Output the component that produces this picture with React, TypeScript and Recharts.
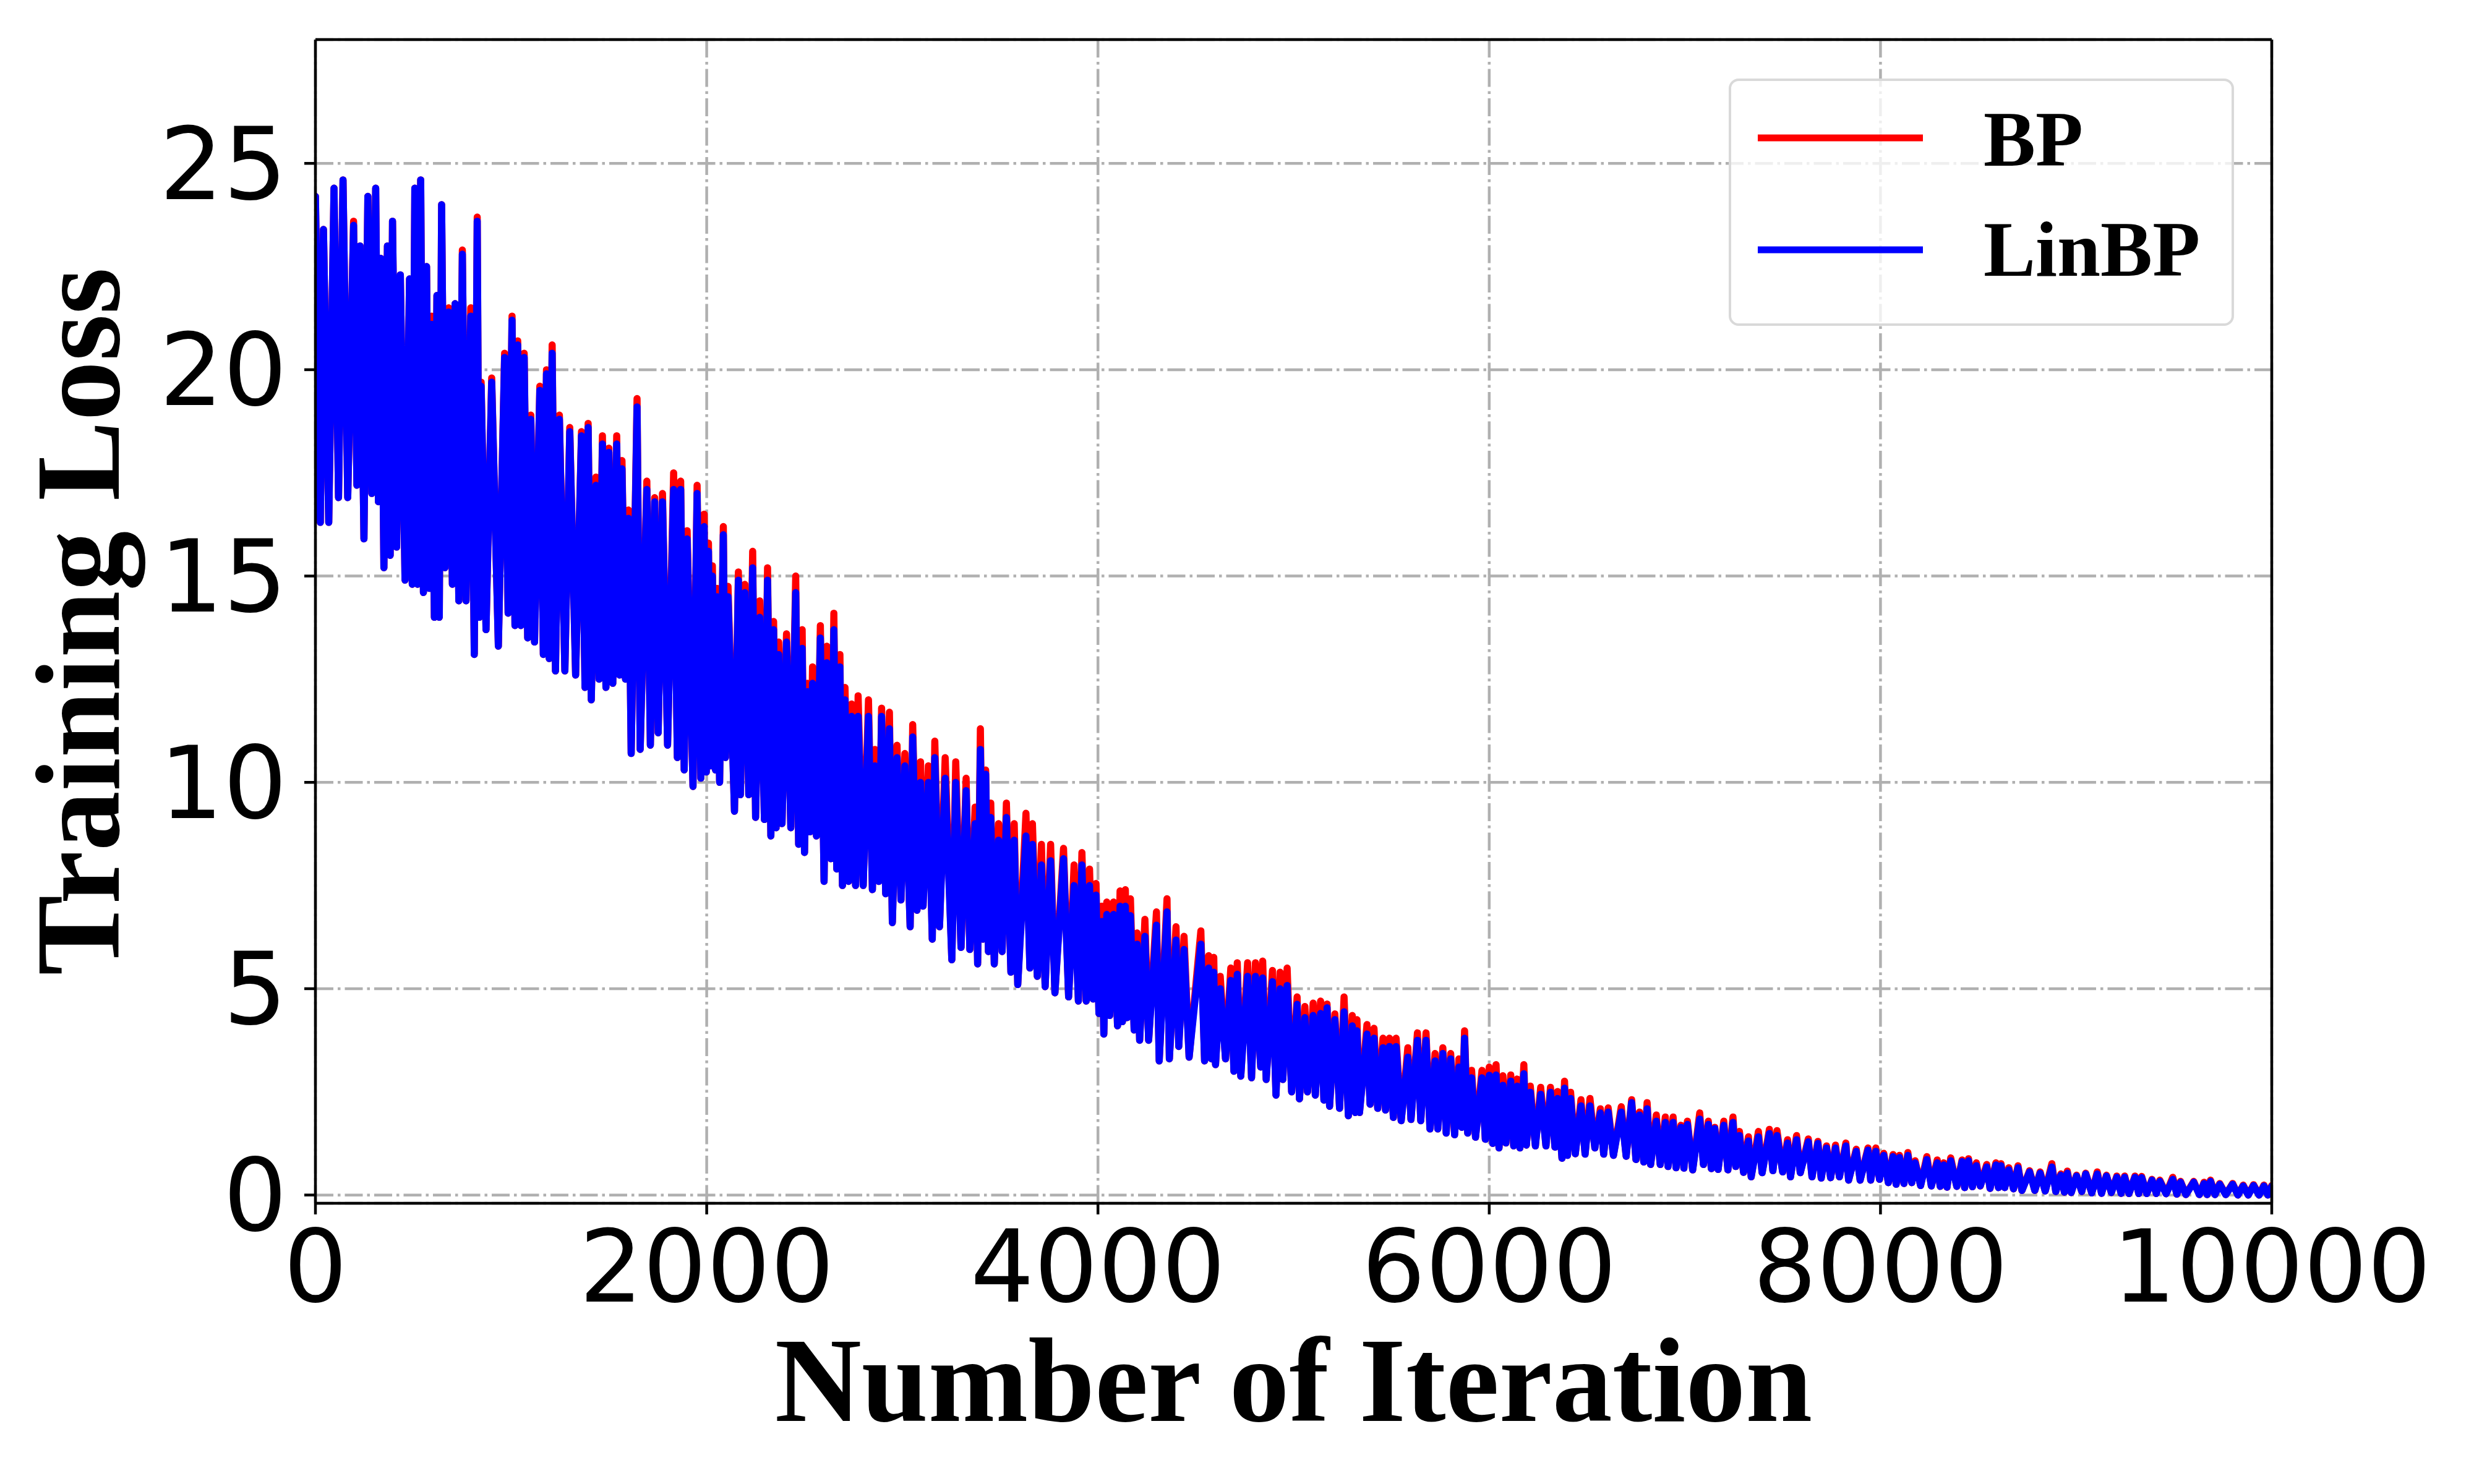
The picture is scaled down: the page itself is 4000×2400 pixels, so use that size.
import React from "react";
import {
    LineChart,
    Line,
    XAxis,
    YAxis,
    CartesianGrid,
    ReferenceLine,
} from "recharts";

// readings taken off the plot, alternating upper / lower envelope of the noisy curves
// 0 - 2000
const iterA = [
    0, 25, 41, 68, 95, 118, 141, 165, 195, 212,
    228, 248, 268, 288, 308, 322, 334, 350, 368, 382,
    394, 415, 434, 458, 481, 495, 508, 522, 538, 552,
    568, 582, 594, 608, 621, 633, 645, 662, 681, 700,
    714, 733, 751, 770, 794, 812, 827, 838, 847, 872,
    901, 935, 967, 985, 1005, 1020, 1034, 1050, 1067, 1085,
    1101, 1120, 1147, 1165, 1181, 1195, 1210, 1227, 1247, 1275,
    1300, 1330, 1360, 1378, 1394, 1410, 1434, 1450, 1467, 1485,
    1500, 1520, 1540, 1555, 1567, 1585, 1600, 1614, 1644, 1660,
    1694, 1712, 1734, 1752, 1774, 1800, 1831, 1850, 1867, 1885,
    1900, 1930, 1951, 1970, 1987,
];
const linA = [
    24.2, 16.3, 23.4, 16.3, 24.4, 16.9, 24.6, 16.9, 23.5, 17.2,
    23.0, 15.9, 24.2, 17.0, 24.4, 16.8, 22.7, 15.2, 23.0, 15.5,
    23.6, 15.7, 22.3, 14.9, 22.2, 14.8, 24.4, 14.8, 24.6, 14.6,
    22.5, 14.7, 21.1, 14.0, 21.8, 14.0, 24.0, 15.2, 21.4, 14.8,
    21.6, 14.4, 22.8, 14.4, 21.3, 13.1, 23.6, 14.0, 19.6, 13.7,
    19.7, 13.3, 20.3, 14.1, 21.2, 13.8, 20.6, 13.8, 20.3, 13.5,
    18.8, 13.4, 19.5, 13.1, 19.9, 13.0, 20.4, 12.7, 18.8, 12.7,
    18.5, 12.6, 18.4, 12.3, 18.6, 12.0, 17.2, 12.5, 18.2, 12.3,
    18.0, 12.4, 18.2, 12.6, 17.6, 12.5, 16.4, 10.7, 19.1, 10.8,
    17.1, 10.9, 16.8, 11.2, 16.8, 10.9, 17.1, 10.6, 17.1, 10.3,
    15.9, 9.9, 17.0, 10.1, 16.2,
];
const bpA = [
    24.2, 16.3, 23.4, 16.3, 24.4, 16.9, 24.6, 16.9, 23.6, 17.2,
    23.0, 15.9, 24.2, 17.0, 24.4, 16.8, 22.7, 15.2, 23.0, 15.5,
    23.6, 15.7, 22.3, 14.9, 22.2, 14.8, 24.4, 14.8, 24.6, 14.6,
    22.5, 14.7, 21.3, 14.0, 21.8, 14.0, 24.0, 15.2, 21.5, 14.8,
    21.6, 14.4, 22.9, 14.4, 21.5, 13.1, 23.7, 14.0, 19.7, 13.7,
    19.8, 13.3, 20.4, 14.1, 21.3, 13.8, 20.7, 13.8, 20.4, 13.5,
    18.9, 13.4, 19.6, 13.1, 20.0, 13.0, 20.6, 12.7, 18.9, 12.7,
    18.6, 12.6, 18.5, 12.3, 18.7, 12.0, 17.4, 12.5, 18.4, 12.3,
    18.1, 12.4, 18.4, 12.6, 17.8, 12.5, 16.6, 10.7, 19.3, 10.8,
    17.3, 10.9, 16.9, 11.2, 17.0, 10.9, 17.5, 10.6, 17.3, 10.3,
    16.1, 9.9, 17.2, 10.1, 16.5,
];

// 2000 - 4000
const iterB = [
    1998, 2009, 2020, 2029, 2045, 2053, 2066, 2085, 2096, 2109,
    2142, 2162, 2172, 2195, 2215, 2235, 2250, 2271, 2295, 2311,
    2328, 2342, 2355, 2368, 2385, 2408, 2430, 2455, 2470, 2488,
    2500, 2515, 2528, 2541, 2561, 2581, 2600, 2614, 2635, 2650,
    2665, 2681, 2694, 2707, 2725, 2741, 2761, 2774, 2800, 2827,
    2847, 2860, 2880, 2894, 2915, 2934, 2949, 2973, 2993, 3013,
    3040, 3053, 3075, 3093, 3106, 3133, 3153, 3166, 3190, 3219,
    3253, 3273, 3300, 3326, 3345, 3372, 3385, 3399, 3412, 3426,
    3440, 3452, 3470, 3492, 3510, 3532, 3555, 3572, 3590, 3632,
    3652, 3665, 3690, 3711, 3730, 3758, 3780, 3824, 3850, 3878,
    3900, 3918, 3940, 3957, 3975,
];
const linB = [
    10.25, 15.6, 10.4, 15.0, 10.3, 14.5, 10.0, 16.0, 10.6, 14.5,
    9.3, 14.9, 9.7, 14.6, 9.7, 15.2, 9.15, 14.0, 9.1, 14.9,
    8.7, 13.7, 8.9, 13.1, 9.0, 13.4, 8.9, 14.6, 8.5, 13.25,
    8.3, 12.2, 8.8, 12.4, 8.7, 13.5, 7.6, 12.9, 8.15, 13.7,
    7.9, 12.8, 7.5, 12.0, 7.6, 11.6, 7.5, 11.6, 7.5, 11.6,
    7.4, 10.4, 7.6, 11.6, 7.3, 11.3, 6.6, 10.6, 7.15, 10.4,
    6.5, 11.1, 6.9, 10.0, 7.0, 10.0, 6.2, 10.6, 6.5, 10.1,
    5.7, 10.0, 6.0, 9.8, 5.95, 9.0, 5.6, 10.8, 6.2, 10.2,
    5.9, 9.15, 5.6, 8.6, 5.9, 9.15, 5.4, 8.6, 5.1, 8.7,
    5.5, 8.5, 5.3, 8.0, 5.05, 8.1, 4.9, 8.15, 4.8, 7.5,
    4.7, 8.0, 4.7, 7.5, 4.75,
];
const bpB = [
    10.25, 15.8, 10.4, 15.25, 10.3, 14.7, 10.0, 16.2, 10.6, 14.75,
    9.3, 15.1, 9.7, 14.8, 9.7, 15.6, 9.15, 14.4, 9.1, 15.2,
    8.7, 13.9, 8.9, 13.4, 9.0, 13.6, 8.9, 15.0, 8.5, 13.7,
    8.3, 12.4, 8.8, 12.8, 8.7, 13.8, 7.6, 13.3, 8.15, 14.1,
    7.9, 13.1, 7.5, 12.3, 7.6, 11.9, 7.5, 12.1, 7.5, 12.0,
    7.4, 10.8, 7.6, 11.8, 7.3, 11.7, 6.6, 10.9, 7.15, 10.7,
    6.5, 11.4, 6.9, 10.5, 7.0, 10.4, 6.2, 11.0, 6.5, 10.6,
    5.7, 10.5, 6.0, 10.1, 5.95, 9.4, 5.6, 11.3, 6.2, 10.3,
    5.9, 9.5, 5.6, 9.0, 5.9, 9.5, 5.4, 9.0, 5.1, 9.25,
    5.5, 9.0, 5.3, 8.5, 5.05, 8.5, 4.9, 8.4, 4.8, 8.0,
    4.7, 8.3, 4.7, 7.9, 4.75,
];

// 4000 - 6000
const iterC = [
    3990, 4005, 4020, 4030, 4045, 4060, 4080, 4100, 4113, 4125,
    4140, 4150, 4166, 4185, 4200, 4213, 4240, 4259, 4299, 4313,
    4353, 4365, 4399, 4413, 4440, 4466, 4526, 4545, 4566, 4580,
    4592, 4601, 4625, 4652, 4679, 4695, 4712, 4730, 4765, 4785,
    4805, 4832, 4842, 4860, 4892, 4910, 4931, 4945, 4967, 4990,
    5018, 5030, 5058, 5071, 5100, 5111, 5138, 5155, 5171, 5184,
    5211, 5235, 5258, 5280, 5300, 5315, 5324, 5337, 5375, 5391,
    5411, 5430, 5457, 5470, 5490, 5510, 5524, 5550, 5584, 5600,
    5633, 5650, 5677, 5697, 5723, 5737, 5763, 5780, 5803, 5823,
    5845, 5860, 5874, 5890, 5910, 5930, 5963, 5980, 6000,
];
const linC = [
    7.27, 4.4, 6.63, 3.9, 6.8, 4.35, 6.8, 4.1, 7.0, 4.2,
    7.0, 4.3, 6.77, 4.0, 6.08, 3.75, 6.27, 3.75, 6.54, 3.25,
    6.86, 3.3, 6.18, 3.6, 5.95, 3.34, 6.08, 3.25, 5.5, 3.3,
    5.4, 3.16, 5.0, 3.3, 5.2, 3.0, 5.35, 2.88, 5.3, 2.84,
    5.3, 3.1, 5.26, 2.8, 5.17, 2.42, 5.0, 2.8, 5.08, 2.5,
    4.62, 2.33, 4.3, 2.5, 4.35, 2.42, 4.4, 2.3, 4.54, 2.15,
    4.25, 2.1, 4.44, 1.92, 4.1, 2.0, 3.98, 2.0, 3.9, 2.2,
    3.8, 2.1, 3.57, 2.06, 3.6, 1.88, 3.6, 1.8, 3.34, 1.83,
    3.75, 1.8, 3.75, 1.6, 3.25, 1.6, 3.43, 1.5, 3.3, 1.46,
    3.1, 1.64, 3.8, 1.5, 2.84, 1.4, 2.84, 1.35, 2.9,
];
const bpC = [
    7.55, 4.4, 7.0, 3.9, 7.1, 4.35, 7.1, 4.1, 7.37, 4.2,
    7.4, 4.3, 7.18, 4.0, 6.35, 3.75, 6.68, 3.75, 6.86, 3.25,
    7.18, 3.3, 6.5, 3.6, 6.27, 3.34, 6.4, 3.25, 5.8, 3.3,
    5.76, 3.16, 5.3, 3.3, 5.5, 3.0, 5.63, 2.88, 5.63, 2.84,
    5.63, 3.1, 5.67, 2.8, 5.44, 2.42, 5.4, 2.8, 5.5, 2.5,
    4.8, 2.33, 4.57, 2.5, 4.65, 2.42, 4.7, 2.3, 4.63, 2.15,
    4.39, 2.1, 4.8, 1.92, 4.35, 2.0, 4.25, 2.0, 4.13, 2.2,
    4.04, 2.1, 3.8, 2.06, 3.8, 1.88, 3.8, 1.8, 3.57, 1.83,
    3.93, 1.8, 3.93, 1.6, 3.43, 1.6, 3.57, 1.5, 3.43, 1.46,
    3.3, 1.64, 3.98, 1.5, 3.02, 1.4, 3.02, 1.35, 3.1,
];

// 6000 - 8000
const iterD = [
    6018, 6035, 6050, 6070, 6085, 6110, 6125, 6143, 6157, 6177,
    6190, 6210, 6236, 6263, 6290, 6313, 6336, 6349, 6372, 6385,
    6400, 6416, 6440, 6469, 6490, 6515, 6540, 6568, 6585, 6608,
    6635, 6675, 6700, 6728, 6750, 6768, 6790, 6807, 6825, 6854,
    6874, 6900, 6914, 6940, 6955, 6980, 6995, 7013, 7040, 7076,
    7095, 7120, 7135, 7153, 7170, 7199, 7220, 7246, 7260, 7279,
    7300, 7325, 7339, 7376, 7395, 7432, 7450, 7471, 7500, 7525,
    7540, 7571, 7590, 7631, 7650, 7680, 7697, 7724, 7745, 7770,
    7790, 7823, 7837, 7876, 7896, 7936, 7950, 7976, 7995,
];
const linD = [
    1.25, 2.91, 1.14, 2.66, 1.26, 2.76, 1.19, 2.64, 1.14, 2.94,
    1.21, 2.49, 1.19, 2.44, 1.19, 2.49, 1.16, 2.34, 0.89, 2.59,
    0.96, 2.34, 1.0, 2.16, 0.99, 2.16, 1.14, 1.99, 0.99, 2.01,
    0.96, 2.01, 0.94, 2.24, 0.86, 1.94, 0.8, 2.09, 0.74, 1.79,
    0.74, 1.76, 0.69, 1.76, 0.66, 1.64, 0.65, 1.71, 0.61, 1.84,
    0.74, 1.71, 0.64, 1.61, 0.62, 1.69, 0.61, 1.76, 0.69, 1.44,
    0.55, 1.31, 0.44, 1.41, 0.54, 1.49, 0.59, 1.44, 0.56, 1.26,
    0.44, 1.34, 0.54, 1.29, 0.44, 1.25, 0.41, 1.14, 0.42, 1.14,
    0.44, 1.19, 0.36, 1.06, 0.36, 1.09, 0.36, 1.06, 0.38,
];
const bpD = [
    1.25, 3.16, 1.14, 2.89, 1.26, 2.91, 1.19, 2.81, 1.14, 3.16,
    1.21, 2.64, 1.19, 2.61, 1.19, 2.61, 1.16, 2.51, 0.89, 2.76,
    0.96, 2.49, 1.0, 2.31, 0.99, 2.34, 1.14, 2.09, 0.99, 2.11,
    0.96, 2.14, 0.94, 2.31, 0.86, 2.01, 0.8, 2.24, 0.74, 1.94,
    0.74, 1.89, 0.69, 1.89, 0.66, 1.69, 0.65, 1.79, 0.61, 1.99,
    0.74, 1.79, 0.64, 1.64, 0.62, 1.79, 0.61, 1.89, 0.69, 1.54,
    0.55, 1.41, 0.44, 1.54, 0.54, 1.59, 0.59, 1.56, 0.56, 1.34,
    0.44, 1.44, 0.54, 1.36, 0.44, 1.3, 0.41, 1.19, 0.42, 1.21,
    0.44, 1.26, 0.36, 1.11, 0.36, 1.14, 0.36, 1.14, 0.38,
];

// 8000 - 10000
const iterE = [
    8017, 8040, 8064, 8080, 8097, 8120, 8140, 8160, 8177, 8205,
    8237, 8260, 8290, 8305, 8323, 8340, 8359, 8390, 8417, 8430,
    8450, 8470, 8490, 8510, 8543, 8560, 8590, 8603, 8616, 8635,
    8656, 8680, 8703, 8723, 8762, 8789, 8816, 8842, 8876, 8896,
    8922, 8940, 8955, 8975, 9002, 9029, 9049, 9080, 9108, 9130,
    9155, 9180, 9208, 9230, 9248, 9270, 9301, 9320, 9335, 9361,
    9388, 9410, 9428, 9460, 9494, 9515, 9534, 9561, 9601, 9630,
    9654, 9670, 9687, 9710, 9734, 9765, 9800, 9827, 9854, 9880,
    9907, 9935, 9960, 9980, 10000,
];
const linE = [
    0.96, 0.3, 0.93, 0.26, 0.91, 0.28, 0.96, 0.3, 0.78, 0.23,
    0.86, 0.22, 0.78, 0.21, 0.73, 0.19, 0.83, 0.21, 0.81, 0.18,
    0.83, 0.2, 0.71, 0.22, 0.68, 0.16, 0.73, 0.18, 0.71, 0.18,
    0.61, 0.15, 0.66, 0.11, 0.56, 0.11, 0.53, 0.095, 0.68, 0.085,
    0.48, 0.07, 0.53, 0.06, 0.46, 0.085, 0.51, 0.05, 0.51, 0.04,
    0.46, 0.06, 0.43, 0.04, 0.43, 0.035, 0.43, 0.035, 0.42, 0.035,
    0.36, 0.035, 0.33, 0.03, 0.38, 0.02, 0.31, 0.01, 0.31, 0.01,
    0.28, 0.01, 0.33, 0.01, 0.26, 0.01, 0.26, 0.0, 0.22, 0.0,
    0.23, 0.0, 0.22, 0.0, 0.21,
];
const bpE = [
    1.01, 0.3, 0.98, 0.26, 0.96, 0.28, 1.03, 0.3, 0.83, 0.23,
    0.93, 0.22, 0.85, 0.21, 0.78, 0.19, 0.9, 0.21, 0.85, 0.18,
    0.88, 0.2, 0.78, 0.22, 0.74, 0.16, 0.78, 0.18, 0.76, 0.18,
    0.66, 0.15, 0.71, 0.11, 0.59, 0.11, 0.56, 0.095, 0.76, 0.085,
    0.51, 0.07, 0.58, 0.06, 0.48, 0.085, 0.53, 0.05, 0.56, 0.04,
    0.48, 0.06, 0.46, 0.04, 0.46, 0.035, 0.46, 0.035, 0.45, 0.035,
    0.38, 0.035, 0.36, 0.03, 0.43, 0.02, 0.33, 0.01, 0.33, 0.01,
    0.31, 0.01, 0.36, 0.01, 0.28, 0.01, 0.28, 0.0, 0.24, 0.0,
    0.25, 0.0, 0.24, 0.0, 0.23,
];

const xTicks = [0, 2000, 4000, 6000, 8000, 10000];
const yTicks = [0, 5, 10, 15, 20, 25];

const iterations = [...iterA, ...iterB, ...iterC, ...iterD, ...iterE];
const linbpLoss = [...linA, ...linB, ...linC, ...linD, ...linE];
const bpLoss = [...bpA, ...bpB, ...bpC, ...bpD, ...bpE];

const chartData = iterations.map((it, i) => ({
    iter: it,
    bp: bpLoss[i],
    linbp: linbpLoss[i],
}));

const series = [
    { key: "bp", name: "BP", color: "#ff0000" },
    { key: "linbp", name: "LinBP", color: "#0000ff" },
];

const SERIF = "'Liberation Serif', 'Times New Roman', serif";
const SANS = "'DejaVu Sans', sans-serif";

const XLabel = (props: any) => {
    const vb = props.viewBox;
    return (
        <text
            x={vb.x + vb.width / 2}
            y={vb.y + 352}
            textAnchor="middle"
            fontFamily={SERIF}
            fontWeight="bold"
            fontSize={194}
            fill="#000"
        >
            Number of Iteration
        </text>
    );
};

const YLabel = (props: any) => {
    const vb = props.viewBox;
    const x = vb.x + vb.width - 318;
    const y = vb.y + vb.height / 2;
    return (
        <text
            transform={`translate(${x}, ${y}) rotate(-90)`}
            textAnchor="middle"
            fontFamily={SERIF}
            fontWeight="bold"
            fontSize={194}
            fill="#000"
        >
            Training Loss
        </text>
    );
};

const LegendBox = () => (
    <div
        style={{
            position: "absolute",
            left: 2795,
            top: 127,
            width: 817,
            height: 400,
            boxSizing: "border-box",
            border: "4px solid #d9d9d9",
            borderRadius: 16,
            background: "rgba(255,255,255,0.8)",
        }}
    >
        <svg width={809} height={392} style={{ position: "absolute", left: 0, top: 0 }}>
            {series.map((s, i) => (
                <g key={s.key}>
                    <line x1={43} x2={310} y1={92 + i * 181} y2={92 + i * 181} stroke={s.color} strokeWidth={11} />
                    <text
                        x={408}
                        y={137 + i * 178}
                        fontFamily={SERIF}
                        fontWeight="bold"
                        fontSize={126}
                        fill="#000"
                    >
                        {s.name}
                    </text>
                </g>
            ))}
        </svg>
    </div>
);

const App = () => {
    return (
        <div style={{ position: "absolute", left: 0, top: 0, width: 4000, height: 2400, background: "#fff" }}>
            <LineChart
                width={4000}
                height={2400}
                data={chartData}
                margin={{ top: 64, right: 327, bottom: 354, left: 410 }}
            >
                <CartesianGrid
                    stroke="#b0b0b0"
                    strokeWidth={4.5}
                    strokeDasharray="29 7 4.5 7"
                />
                <XAxis
                    dataKey="iter"
                    type="number"
                    domain={[0, 10000]}
                    ticks={xTicks}
                    allowDataOverflow
                    height={100}
                    tickSize={18}
                    tickMargin={26}
                    axisLine={{ stroke: "#000", strokeWidth: 4.5 }}
                    tickLine={{ stroke: "#000", strokeWidth: 4.5 }}
                    tick={{ fill: "#000", fontSize: 162, fontFamily: SANS }}
                    label={<XLabel />}
                />
                <YAxis
                    type="number"
                    domain={[-0.2, 28]}
                    ticks={yTicks}
                    allowDataOverflow
                    width={100}
                    tickSize={18}
                    tickMargin={28}
                    axisLine={{ stroke: "#000", strokeWidth: 4.5 }}
                    tickLine={{ stroke: "#000", strokeWidth: 4.5 }}
                    tick={{ fill: "#000", fontSize: 162, fontFamily: SANS }}
                    label={<YLabel />}
                />
                {series.map((s) => (
                    <Line
                        key={s.key}
                        type="linear"
                        dataKey={s.key}
                        name={s.name}
                        stroke={s.color}
                        strokeWidth={11.5}
                        strokeLinejoin="round"
                        strokeLinecap="round"
                        dot={false}
                        activeDot={false}
                        isAnimationActive={false}
                    />
                ))}
                <ReferenceLine y={28} stroke="#000" strokeWidth={4.5} />
                <ReferenceLine x={10000} stroke="#000" strokeWidth={4.5} />
            </LineChart>
            <LegendBox />
        </div>
    );
};

export default App;
